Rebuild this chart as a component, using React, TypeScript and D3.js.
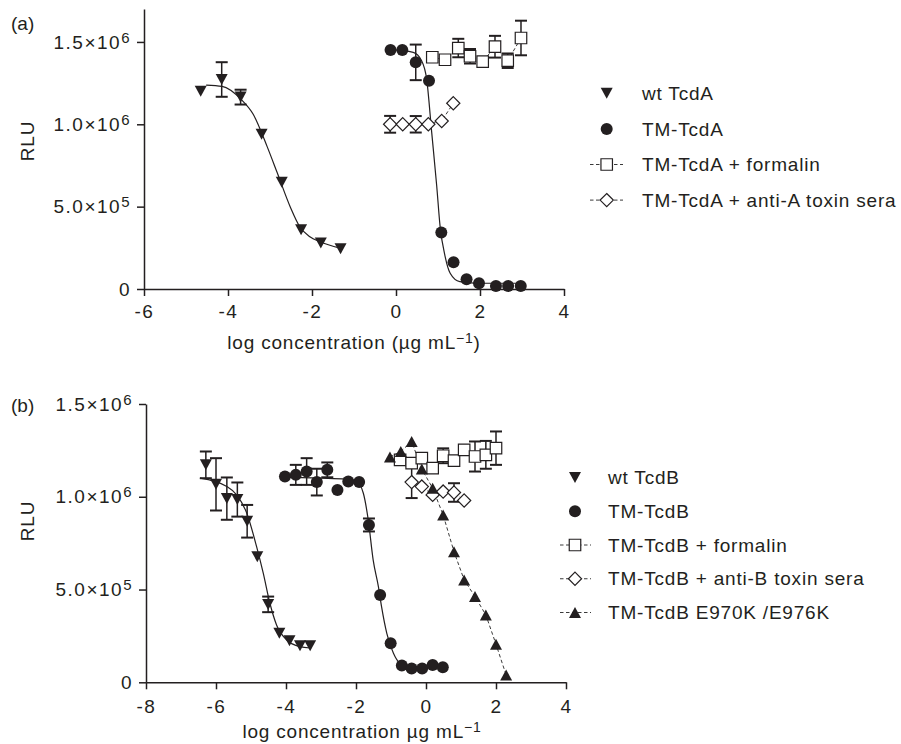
import { useEffect, useRef } from "react";
import * as d3 from "d3";

// every point: [log concentration, RLU, error (0 = none drawn)]
type Pt = [number, number, number];
type Knot = [number, number];

const xTicksA = [-6, -4, -2, 0, 2, 4];
const xTicksB = [-8, -6, -4, -2, 0, 2, 4];
const yTicks = [0, 5e5, 1e6, 1.5e6];
const yTickMant = ["0", "5.0", "1.0", "1.5"];
const yTickExp = ["", "5", "6", "6"];

// ---- panel (a)
const wtTcdA: Pt[] = [
  [-4.65, 1.2e6, 0], [-4.15, 1.272e6, 0.105e6], [-3.7, 1.165e6, 0.045e6], [-3.2, 0.94e6, 0],
  [-2.72, 0.648e6, 0], [-2.26, 0.36e6, 0], [-1.79, 0.279e6, 0], [-1.32, 0.244e6, 0],
];
const tmTcdA: Pt[] = [
  [-0.13, 1.451e6, 0], [0.15, 1.451e6, 0], [0.47, 1.376e6, 0.108e6], [0.786, 1.264e6, 0],
  [1.079, 0.343e6, 0], [1.37, 0.163e6, 0], [1.68, 0.059e6, 0], [1.976, 0.035e6, 0],
  [2.38, 0.018e6, 0], [2.67, 0.018e6, 0], [2.97, 0.018e6, 0],
];
const tmTcdAFormalin: Pt[] = [
  [0.864, 1.407e6, 0], [1.167, 1.392e6, 0], [1.483, 1.463e6, 0.056e6], [1.762, 1.413e6, 0.044e6],
  [2.064, 1.38e6, 0], [2.357, 1.471e6, 0.066e6], [2.66, 1.386e6, 0.044e6], [2.976, 1.524e6, 0.105e6],
];
const tmTcdAAntiA: Pt[] = [
  [-0.14, 1.0e6, 0.051e6], [0.16, 1.0e6, 0], [0.47, 1.0e6, 0.05e6], [0.77, 1.0e6, 0],
  [1.088, 1.02e6, 0], [1.364, 1.128e6, 0],
];
// fitted curves
const wtTcdAFit: Knot[] = [
  [-4.52, 1.238e6], [-4.14, 1.23e6], [-3.69, 1.152e6], [-3.4, 1.061e6], [-3.07, 0.866e6],
  [-2.83, 0.707e6], [-2.52, 0.5e6], [-2.29, 0.378e6], [-2.05, 0.317e6], [-1.81, 0.287e6], [-1.33, 0.248e6],
];
const tmTcdAFit: Knot[] = [
  [-0.14, 1.453e6], [0.41, 1.437e6], [0.61, 1.386e6], [0.73, 1.274e6], [0.85, 0.951e6],
  [0.97, 0.624e6], [1.05, 0.38e6], [1.17, 0.197e6], [1.29, 0.096e6], [1.52, 0.045e6],
  [2.0, 0.035e6], [3.02, 0.035e6],
];

// ---- panel (b)
const wtTcdB: Pt[] = [
  [-6.29, 1.172e6, 0.072e6], [-6.0, 1.067e6, 0.141e6], [-5.69, 0.99e6, 0.114e6], [-5.39, 0.985e6, 0.092e6],
  [-5.11, 0.868e6, 0.088e6], [-4.82, 0.677e6, 0], [-4.51, 0.42e6, 0.042e6], [-4.19, 0.264e6, 0],
  [-3.9, 0.224e6, 0], [-3.6, 0.197e6, 0], [-3.31, 0.197e6, 0],
];
const tmTcdB: Pt[] = [
  [-4.03, 1.109e6, 0], [-3.72, 1.118e6, 0.054e6], [-3.41, 1.136e6, 0.072e6], [-3.12, 1.079e6, 0.072e6],
  [-2.82, 1.145e6, 0.04e6], [-2.53, 1.037e6, 0], [-2.22, 1.082e6, 0], [-1.91, 1.079e6, 0],
  [-1.63, 0.848e6, 0.035e6], [-1.31, 0.471e6, 0], [-1.01, 0.21e6, 0], [-0.69, 0.09e6, 0],
  [-0.41, 0.075e6, 0], [-0.11, 0.075e6, 0], [0.19, 0.093e6, 0], [0.48, 0.081e6, 0],
];
const tmTcdBFormalin: Pt[] = [
  [-0.74, 1.199e6, 0], [-0.41, 1.181e6, 0], [-0.12, 1.208e6, 0], [0.19, 1.154e6, 0],
  [0.49, 1.221e6, 0.04e6], [0.8, 1.195e6, 0], [1.09, 1.253e6, 0], [1.4, 1.217e6, 0.081e6],
  [1.71, 1.226e6, 0.075e6], [2.0, 1.262e6, 0.09e6],
];
const tmTcdBAntiB: Pt[] = [
  [-0.41, 1.079e6, 0.086e6], [-0.12, 1.055e6, 0], [0.19, 1.01e6, 0], [0.49, 1.028e6, 0],
  [0.8, 1.023e6, 0.05e6], [1.09, 0.98e6, 0],
];
const tmTcdBMut: Pt[] = [
  [-1.03, 1.214e6, 0], [-0.72, 1.244e6, 0], [-0.41, 1.298e6, 0], [-0.12, 1.149e6, 0],
  [0.19, 1.046e6, 0], [0.49, 0.902e6, 0], [0.8, 0.704e6, 0], [1.09, 0.552e6, 0],
  [1.4, 0.462e6, 0], [1.71, 0.363e6, 0], [2.0, 0.205e6, 0], [2.29, 0.039e6, 0],
];
const wtTcdBFit: Knot[] = [
  [-6.46, 1.1e6], [-5.69, 1.055e6], [-5.41, 1.01e6], [-5.12, 0.911e6], [-4.84, 0.731e6],
  [-4.65, 0.588e6], [-4.46, 0.426e6], [-4.27, 0.309e6], [-3.98, 0.228e6], [-3.6, 0.192e6], [-3.31, 0.185e6],
];
const tmTcdBFit: Knot[] = [
  [-4.03, 1.105e6], [-3.0, 1.1e6], [-2.3, 1.095e6], [-1.98, 1.082e6], [-1.79, 1.019e6],
  [-1.65, 0.875e6], [-1.51, 0.66e6], [-1.36, 0.516e6], [-1.27, 0.408e6], [-1.12, 0.264e6],
  [-0.93, 0.156e6], [-0.74, 0.102e6], [-0.36, 0.081e6], [0.49, 0.081e6],
];

const legendA = ["wt TcdA", "TM-TcdA", "TM-TcdA + formalin", "TM-TcdA + anti-A toxin sera"];
const legendB = ["wt TcdB", "TM-TcdB", "TM-TcdB + formalin", "TM-TcdB + anti-B toxin sera", "TM-TcdB E970K /E976K"];

const FONT = "'Liberation Sans', Arial, Helvetica, sans-serif";
const INK = "#231f20";

type Shape = "down" | "up" | "circle" | "square" | "diamond";
const SHAPES: Record<Shape, string> = {
  down: "M-6,-5.5H6L0,5.5Z",
  up: "M-6,5.5H6L0,-5.5Z",
  circle: d3.symbol(d3.symbolCircle, Math.PI * 36)() as string,
  square: "M-5.75,-5.75h11.5v11.5h-11.5Z",
  diamond: "M0,-6.6L6.6,0L0,6.6L-6.6,0Z",
};
const hollow = (s: Shape) => s === "square" || s === "diamond";

interface Series { data: Pt[]; shape: Shape; dashed: boolean; }
interface Panel {
  tag: string; xDomain: [number, number]; xRange: [number, number]; xTicks: number[]; xPad: number;
  yDomain: [number, number]; yRange: [number, number];
  series: Series[]; fits: Knot[][]; legend: string[];
  leg: { mx: number; l0: number; l1: number; tx: number; y0: number; dy: number };
  title: { x: number; y: number; paren: boolean }; rluY: number; tagY: number;
}

const PANELS: Panel[] = [
  {
    tag: "(a)", xDomain: [-6, 4], xRange: [144, 564], xTicks: xTicksA, xPad: 8.5,
    yDomain: [0, 1.7e6], yRange: [289, 9],
    series: [
      { data: tmTcdAFormalin, shape: "square", dashed: true },
      { data: tmTcdAAntiA, shape: "diamond", dashed: true },
      { data: wtTcdA, shape: "down", dashed: false },
      { data: tmTcdA, shape: "circle", dashed: false },
    ],
    fits: [wtTcdAFit, tmTcdAFit], legend: legendA,
    leg: { mx: 606.7, l0: 590, l1: 623, tx: 642, y0: 93.3, dy: 35.6 },
    title: { x: 354, y: 349, paren: true }, rluY: 141, tagY: 30,
  },
  {
    tag: "(b)", xDomain: [-8, 4], xRange: [146, 566], xTicks: xTicksB, xPad: 10,
    yDomain: [0, 1.5e6], yRange: [682.3, 404],
    series: [
      { data: tmTcdBFormalin, shape: "square", dashed: true },
      { data: tmTcdBAntiB, shape: "diamond", dashed: true },
      { data: wtTcdB, shape: "down", dashed: false },
      { data: tmTcdB, shape: "circle", dashed: false },
      { data: tmTcdBMut, shape: "up", dashed: true },
    ],
    fits: [wtTcdBFit, tmTcdBFit], legend: legendB,
    leg: { mx: 575, l0: 560, l1: 591, tx: 608, y0: 477.5, dy: 33.75 },
    title: { x: 362, y: 738, paren: false }, rluY: 521, tagY: 412,
  },
];

const LEGEND_ORDER: Shape[] = ["down", "circle", "square", "diamond", "up"];

function drawPanel(root: d3.Selection<SVGSVGElement, unknown, null, undefined>, p: Panel) {
  const x = d3.scaleLinear().domain(p.xDomain).range(p.xRange);
  const y = d3.scaleLinear().domain(p.yDomain).range(p.yRange);
  const g = root.append("g");

  // axes
  const xa = g.append("g").attr("transform", `translate(0,${y(0)})`)
    .call(d3.axisBottom(x).tickValues(p.xTicks).tickSize(7).tickSizeOuter(0).tickPadding(p.xPad).tickFormat(d => String(d)));
  const ya = g.append("g").attr("transform", `translate(${x(p.xDomain[0])},0)`)
    .call(d3.axisLeft(y).tickValues(yTicks).tickSize(7).tickSizeOuter(0).tickPadding(6).tickFormat(() => ""));
  [xa, ya].forEach(a => {
    a.attr("font-family", FONT).attr("font-size", 19);
    a.selectAll("path,line").attr("stroke", INK).attr("stroke-width", 1.5);
    a.selectAll("text").attr("fill", INK).attr("letter-spacing", 1.5);
  });
  ya.selectAll<SVGTextElement, number>(".tick text").each(function (d) {
    const i = yTicks.indexOf(d);
    const t = d3.select(this);
    if (!yTickExp[i]) { t.text(yTickMant[i]); return; }
    t.append("tspan").text(`${yTickMant[i]}×10`);
    t.append("tspan").attr("dy", "-0.4em").attr("font-size", 15).text(yTickExp[i]);
  });

  // texts
  g.append("text").attr("x", 11).attr("y", p.tagY).attr("font-family", FONT).attr("font-size", 19)
    .attr("fill", INK).text(p.tag);
  g.append("text").attr("transform", `translate(34,${p.rluY}) rotate(-90)`).attr("text-anchor", "middle")
    .attr("font-family", FONT).attr("font-size", 19).attr("letter-spacing", 0.8).attr("fill", INK).text("RLU");
  const tt = g.append("text").attr("x", p.title.x).attr("y", p.title.y).attr("text-anchor", "middle")
    .attr("font-family", FONT).attr("font-size", 19).attr("letter-spacing", 0.8).attr("fill", INK);
  tt.append("tspan").text(p.title.paren ? "log concentration (µg mL" : "log concentration µg mL");
  tt.append("tspan").attr("dy", -6).attr("font-size", 14).text("−1");
  if (p.title.paren) tt.append("tspan").attr("dy", 6).text(")");

  // fitted curves
  const line = d3.line<Knot>().x(d => x(d[0])).y(d => y(d[1])).curve(d3.curveMonotoneX);
  p.fits.forEach(f => g.append("path").attr("d", line(f)).attr("fill", "none")
    .attr("stroke", INK).attr("stroke-width", 1.2));

  // dashed connectors
  const link = d3.line<Pt>().x(d => x(d[0])).y(d => y(d[1]));
  p.series.filter(s => s.dashed).forEach(s => g.append("path").attr("d", link(s.data)).attr("fill", "none")
    .attr("stroke", "#3a3a3a").attr("stroke-width", 1).attr("stroke-dasharray", "3.5,2.5"));

  // error bars
  p.series.forEach(s => {
    const eb = g.append("g").attr("stroke", INK).attr("stroke-width", 1.5);
    s.data.filter(d => d[2] > 0).forEach(d => {
      const cx = x(d[0]), t = y(d[1] + d[2]), b = y(d[1] - d[2]);
      eb.append("line").attr("x1", cx).attr("x2", cx).attr("y1", t).attr("y2", b);
      eb.append("line").attr("x1", cx - 6).attr("x2", cx + 6).attr("y1", t).attr("y2", t).attr("stroke-width", 2);
      eb.append("line").attr("x1", cx - 6).attr("x2", cx + 6).attr("y1", b).attr("y2", b).attr("stroke-width", 2);
    });
  });

  // markers
  p.series.forEach(s => {
    g.append("g").selectAll("path").data(s.data).join("path")
      .attr("transform", d => `translate(${x(d[0])},${y(d[1])})`)
      .attr("d", SHAPES[s.shape])
      .attr("fill", hollow(s.shape) ? "#fff" : INK)
      .attr("stroke", hollow(s.shape) ? INK : "none")
      .attr("stroke-width", 1.2);
  });

  // legend
  const L = p.leg;
  p.legend.forEach((label, i) => {
    const shape = LEGEND_ORDER[i];
    const cy = L.y0 + i * L.dy;
    const row = g.append("g");
    if (shape === "square" || shape === "diamond" || shape === "up") {
      row.append("line").attr("x1", L.l0).attr("x2", L.l1).attr("y1", cy).attr("y2", cy)
        .attr("stroke", "#3a3a3a").attr("stroke-width", 1).attr("stroke-dasharray", "3.5,2.5");
    }
    row.append("path").attr("transform", `translate(${L.mx},${cy})`).attr("d", SHAPES[shape])
      .attr("fill", hollow(shape) ? "#fff" : INK).attr("stroke", hollow(shape) ? INK : "none").attr("stroke-width", 1.2);
    row.append("text").attr("x", L.tx).attr("y", cy).attr("dy", "0.35em").attr("font-family", FONT)
      .attr("font-size", 19).attr("letter-spacing", 0.8).attr("fill", INK).text(label);
  });
}

export default function App() {
  const ref = useRef<SVGSVGElement>(null);

  useEffect(() => {
    if (!ref.current) return;
    const svg = d3.select(ref.current);
    svg.selectAll("*").remove();
    PANELS.forEach(p => drawPanel(svg, p));
  }, []);

  return (
    <svg ref={ref} width={901} height={744}
      style={{ position: "absolute", left: 0, top: 0, background: "#fff", display: "block" }} />
  );
}
